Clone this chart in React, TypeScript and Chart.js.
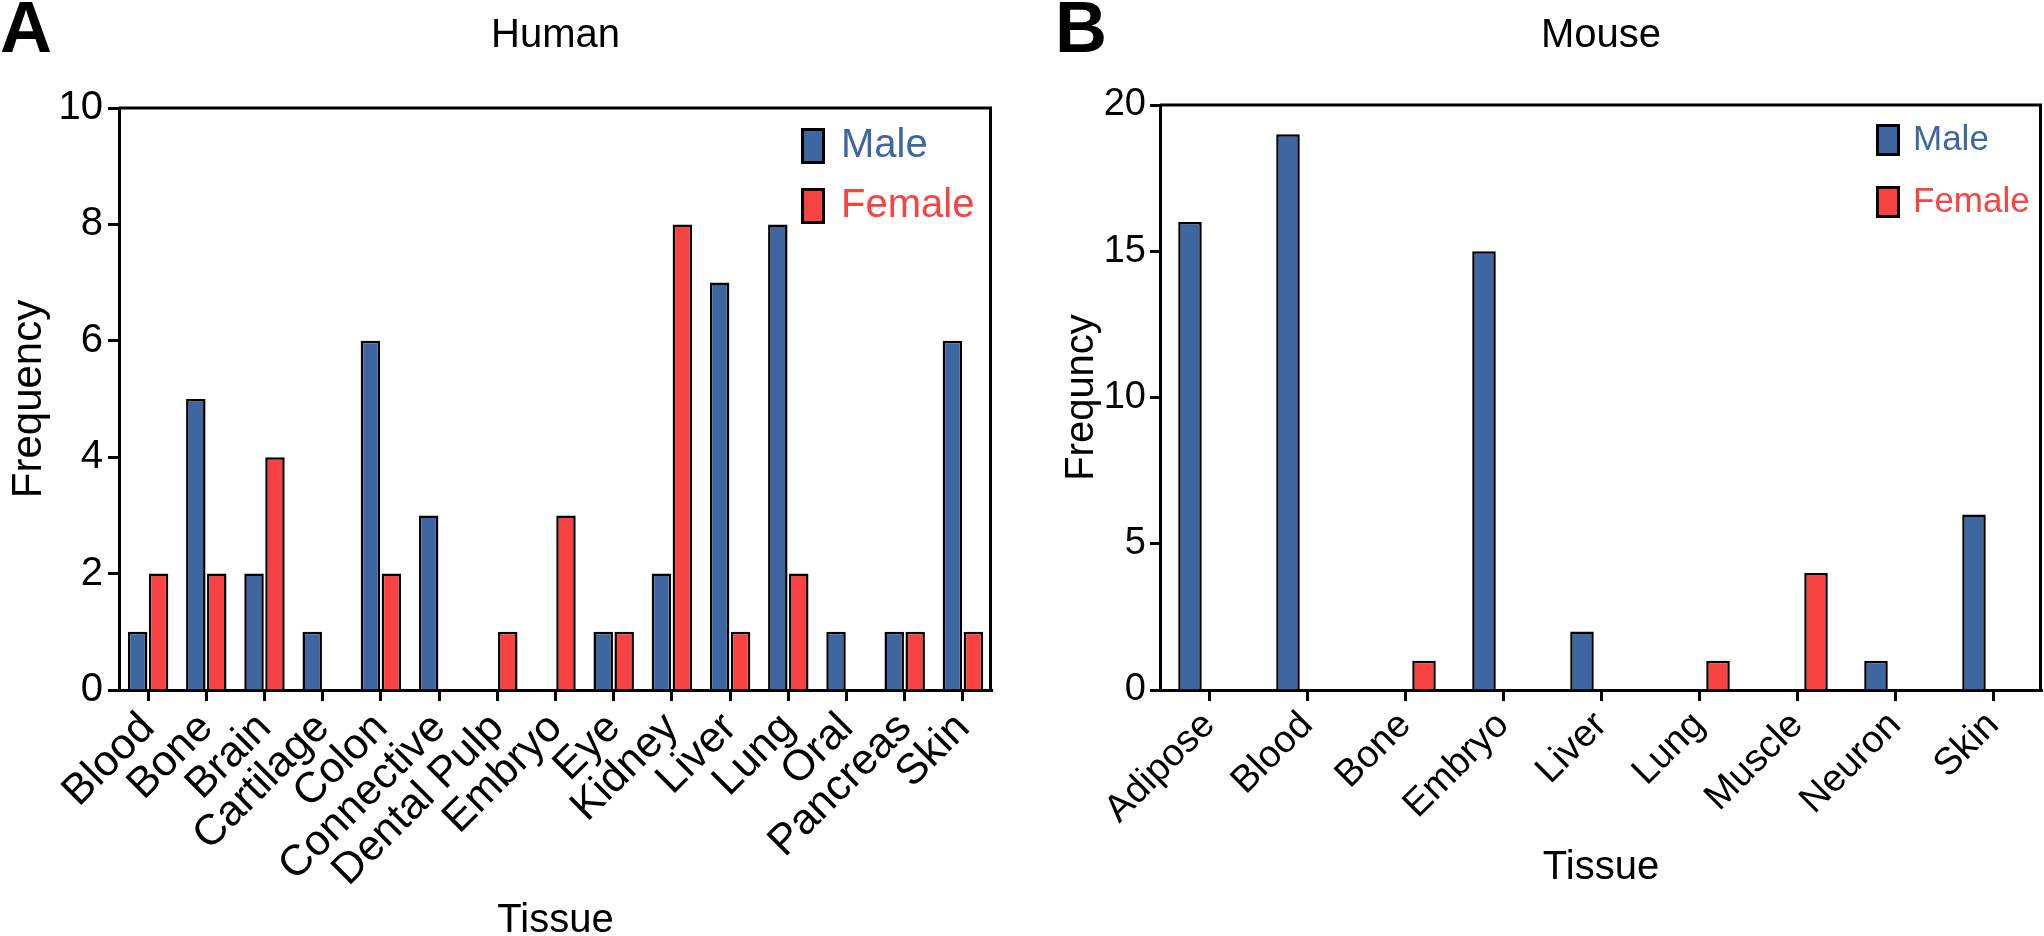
import React, { useEffect, useRef } from 'react';
import { Chart, registerables } from 'chart.js';

Chart.register(...registerables);

const FONT = "'Liberation Sans', Arial, Helvetica, sans-serif";
const MALE_COLOR = '#3E67A1';
const FEMALE_COLOR = '#F94242';

// ---- Data ----
const seriesLabels = ['Male', 'Female'];

const humanTissues = ['Blood', 'Bone', 'Brain', 'Cartilage', 'Colon', 'Connective', 'Dental Pulp', 'Embryo', 'Eye', 'Kidney', 'Liver', 'Lung', 'Oral', 'Pancreas', 'Skin'];
const humanMale = [1, 5, 2, 1, 6, 3, 0, 0, 1, 2, 7, 8, 1, 1, 6];
const humanFemale = [2, 2, 4, 0, 2, 0, 1, 3, 1, 8, 1, 2, 0, 1, 1];
const humanYMax = 10;
const humanYStep = 2;

const mouseTissues = ['Adipose', 'Blood', 'Bone', 'Embryo', 'Liver', 'Lung', 'Muscle', 'Neuron', 'Skin'];
const mouseMale = [16, 19, 0, 15, 2, 0, 0, 1, 6];
const mouseFemale = [0, 0, 1, 0, 0, 1, 4, 0, 0];
const mouseYMax = 20;
const mouseYStep = 5;

const panelLetters = ['A', 'B'];
const panelTitles = ['Human', 'Mouse'];
const xTitle = 'Tissue';
const yTitles = ['Frequency', 'Frequncy'];

// ---- Decoration plugin (frame, panel letter, title, legend) ----
const decorPlugin = {
  id: 'decor',
  afterDraw(chart: any, _args: any, o: any) {
    const ctx = chart.ctx as CanvasRenderingContext2D;
    const { left, right, top, bottom } = chart.chartArea;
    ctx.save();
    // frame (top + right)
    ctx.strokeStyle = '#000';
    ctx.lineWidth = 3;
    ctx.beginPath();
    ctx.moveTo(left, top);
    ctx.lineTo(right - 1.5, top);
    ctx.lineTo(right - 1.5, bottom);
    ctx.stroke();
    // panel letter
    ctx.fillStyle = '#000';
    ctx.textAlign = 'left';
    ctx.textBaseline = 'alphabetic';
    ctx.font = `bold ${o.letterSize}px ${FONT}`;
    ctx.fillText(o.letter, o.letterX, o.letterY);
    // title
    ctx.font = `${o.titleSize}px ${FONT}`;
    ctx.textAlign = 'center';
    ctx.fillText(o.title, (left + right) / 2, o.titleY);
    // legend
    chart.data.datasets.forEach((ds: any, i: number) => {
      const cy = o.legendY + i * o.legendGap;
      const x = o.legendX;
      const w = o.swatchW;
      const h = o.swatchH;
      ctx.fillStyle = ds.backgroundColor;
      ctx.fillRect(x, cy - h / 2, w, h);
      ctx.lineWidth = 3;
      ctx.strokeStyle = '#000';
      ctx.strokeRect(x + 1.5, cy - h / 2 + 1.5, w - 3, h - 3);
      ctx.fillStyle = ds.backgroundColor;
      ctx.font = `${o.legendSize}px ${FONT}`;
      ctx.textAlign = 'left';
      ctx.textBaseline = 'middle';
      ctx.fillText(ds.label, x + w + o.legendTextGap, cy);
    });
    ctx.restore();
  },
};

type PanelCfg = {
  idx: number;
  labels: string[];
  male: number[];
  female: number[];
  yMax: number;
  yStep: number;
  x: number;
  w: number;
  top: number;
  padRight: number;
  yWidth: number;
  xHeight: number;
  xTickFont: number;
  yTickFont: number;
  yTickLen: number;
  yTickPad: number;
  yTitleFont: number;
  yTitlePad: number;
  xTitlePad: number;
  catPct: number;
  barPct: number;
  decor: any;
};

function buildConfig(c: PanelCfg): any {
  return {
    type: 'bar',
    data: {
      labels: c.labels,
      datasets: [
        {
          label: seriesLabels[0],
          data: c.male,
          backgroundColor: MALE_COLOR,
          borderColor: '#000',
          borderWidth: 2.5,
          categoryPercentage: c.catPct,
          barPercentage: c.barPct,
        },
        {
          label: seriesLabels[1],
          data: c.female,
          backgroundColor: FEMALE_COLOR,
          borderColor: '#000',
          borderWidth: 2.5,
          categoryPercentage: c.catPct,
          barPercentage: c.barPct,
        },
      ],
    },
    options: {
      responsive: false,
      animation: false,
      devicePixelRatio: 1,
      layout: { padding: { top: c.top, right: c.padRight, left: 0, bottom: 0 } },
      plugins: {
        legend: { display: false },
        tooltip: { enabled: false },
        decor: c.decor,
      },
      scales: {
        x: {
          offset: true,
          grid: {
            display: true,
            offset: false,
            drawOnChartArea: false,
            drawTicks: true,
            tickLength: 11,
            tickWidth: 3,
            tickColor: '#000',
          },
          border: { display: true, color: '#000', width: 3 },
          ticks: {
            color: '#000',
            font: { family: FONT, size: c.xTickFont },
            minRotation: 45,
            maxRotation: 45,
            autoSkip: false,
            padding: 2,
          },
          title: {
            display: true,
            text: xTitle,
            color: '#000',
            font: { family: FONT, size: 40, lineHeight: 1.2 },
            padding: { top: 0, bottom: c.xTitlePad },
          },
          afterFit: (s: any) => {
            s.height = c.xHeight;
            s.paddingLeft = 0;
            s.paddingRight = 0;
          },
        },
        y: {
          min: 0,
          max: c.yMax,
          grid: {
            display: true,
            drawOnChartArea: false,
            drawTicks: true,
            tickLength: c.yTickLen,
            tickWidth: 3,
            tickColor: '#000',
          },
          border: { display: true, color: '#000', width: 3 },
          ticks: {
            stepSize: c.yStep,
            color: '#000',
            font: { family: FONT, size: c.yTickFont },
            padding: c.yTickPad,
          },
          title: {
            display: true,
            text: yTitles[c.idx],
            color: '#000',
            font: { family: FONT, size: c.yTitleFont, lineHeight: 1.2 },
            padding: { top: c.yTitlePad, bottom: 0 },
          },
          afterFit: (s: any) => {
            s.width = c.yWidth;
            s.paddingTop = 0;
            s.paddingBottom = 0;
          },
        },
      },
    },
    plugins: [decorPlugin],
  };
}

function BarPanel({ cfg }: { cfg: PanelCfg }) {
  const ref = useRef<HTMLCanvasElement>(null);
  useEffect(() => {
    const chart = new Chart(ref.current as HTMLCanvasElement, buildConfig(cfg));
    return () => chart.destroy();
  }, [cfg]);
  return (
    <div style={{ position: 'absolute', left: cfg.x, top: 0, width: cfg.w, height: 936 }}>
      <canvas ref={ref} width={cfg.w} height={936} style={{ display: 'block' }} />
    </div>
  );
}

const humanCfg: PanelCfg = {
  idx: 0,
  labels: humanTissues,
  male: humanMale,
  female: humanFemale,
  yMax: humanYMax,
  yStep: humanYStep,
  x: 0,
  w: 1020,
  top: 108,
  padRight: 28,
  yWidth: 119,
  xHeight: 246,
  xTickFont: 43,
  yTickFont: 40,
  yTickLen: 11,
  yTickPad: 5,
  yTitleFont: 42,
  yTitlePad: 4,
  xTitlePad: -9,
  catPct: 0.72,
  barPct: 0.93,
  decor: {
    letter: panelLetters[0],
    letterX: 0,
    letterY: 52,
    letterSize: 72,
    title: panelTitles[0],
    titleY: 47,
    titleSize: 40,
    legendX: 801,
    legendY: 146,
    legendGap: 60,
    swatchW: 24,
    swatchH: 36,
    legendSize: 40,
    legendTextGap: 16,
  },
};

const mouseCfg: PanelCfg = {
  idx: 1,
  labels: mouseTissues,
  male: mouseMale,
  female: mouseFemale,
  yMax: mouseYMax,
  yStep: mouseYStep,
  x: 1020,
  w: 1024,
  top: 105,
  padRight: 2,
  yWidth: 140,
  xHeight: 246,
  xTickFont: 38,
  yTickFont: 38,
  yTickLen: 10,
  yTickPad: 4,
  yTitleFont: 40,
  yTitlePad: 38,
  xTitlePad: 44,
  catPct: 0.776,
  barPct: 0.62,
  decor: {
    letter: panelLetters[1],
    letterX: 35,
    letterY: 52,
    letterSize: 72,
    title: panelTitles[1],
    titleY: 47,
    titleSize: 40,
    legendX: 856,
    legendY: 140,
    legendGap: 62,
    swatchW: 24,
    swatchH: 32,
    legendSize: 35,
    legendTextGap: 13,
  },
};

export default function App() {
  return (
    <div style={{ position: 'absolute', left: 0, top: 0, width: 2044, height: 936, background: '#fff', overflow: 'hidden' }}>
      <BarPanel cfg={humanCfg} />
      <BarPanel cfg={mouseCfg} />
    </div>
  );
}
